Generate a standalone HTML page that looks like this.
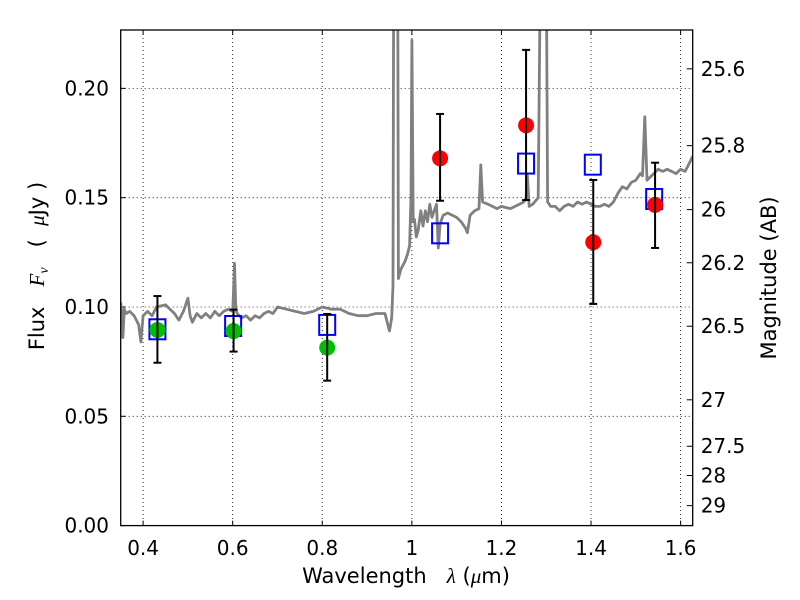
<!DOCTYPE html>
<html><head><meta charset="utf-8"><style>
html,body{margin:0;padding:0;background:#fff;}
svg{display:block;font-family:"DejaVu Sans","Liberation Sans",sans-serif;}
text{white-space:pre;}
</style></head><body>
<svg id="chart" width="800" height="600"></svg>
<script>
const xTicks=[0.4,0.6,0.8,1.0,1.2,1.4,1.6];
const xTickLabels=["0.4","0.6","0.8","1","1.2","1.4","1.6"];
const yTicks=[0,0.05,0.10,0.15,0.20];
const yTickLabels=["0.00","0.05","0.10","0.15","0.20"];
const magTicks=[25.6,25.8,26,26.2,26.5,27,27.5,28,29];
const magLabels=["25.6","25.8","26","26.2","26.5","27","27.5","28","29"];
const specLam=[0.35,0.353,0.355,0.358,0.362,0.37,0.38,0.39,0.395,0.40,0.41,0.42,0.43,0.45,0.46,0.47,0.48,0.49,0.5,0.505,0.51,0.52,0.53,0.54,0.55,0.56,0.57,0.58,0.59,0.6,0.602,0.604,0.607,0.61,0.62,0.63,0.64,0.65,0.66,0.67,0.68,0.69,0.70,0.72,0.74,0.76,0.78,0.80,0.82,0.84,0.86,0.88,0.90,0.92,0.94,0.945,0.95,0.955,0.958,0.96,0.968,0.97,0.975,0.98,0.985,0.99,0.995,0.998,1.0,1.003,1.006,1.01,1.014,1.02,1.025,1.03,1.035,1.04,1.045,1.05,1.055,1.059,1.063,1.07,1.08,1.09,1.10,1.11,1.12,1.124,1.13,1.14,1.15,1.154,1.158,1.17,1.18,1.19,1.2,1.22,1.24,1.25,1.255,1.258,1.262,1.27,1.282,1.289,1.299,1.303,1.31,1.32,1.33,1.34,1.35,1.36,1.37,1.38,1.39,1.40,1.41,1.42,1.43,1.44,1.45,1.46,1.47,1.48,1.49,1.50,1.51,1.515,1.52,1.525,1.53,1.54,1.55,1.56,1.57,1.58,1.59,1.60,1.61,1.62,1.627];
const specFlux=[0.102,0.096,0.086,0.099,0.097,0.098,0.096,0.092,0.084,0.096,0.098,0.096,0.100,0.101,0.099,0.097,0.094,0.098,0.104,0.096,0.093,0.097,0.095,0.097,0.095,0.098,0.096,0.098,0.099,0.098,0.108,0.120,0.099,0.097,0.095,0.096,0.094,0.096,0.095,0.097,0.098,0.097,0.100,0.099,0.098,0.097,0.098,0.100,0.099,0.099,0.097,0.096,0.096,0.097,0.097,0.093,0.089,0.095,0.11,0.30,0.30,0.113,0.117,0.119,0.121,0.124,0.128,0.150,0.222,0.139,0.140,0.132,0.135,0.144,0.137,0.144,0.139,0.147,0.141,0.144,0.147,0.127,0.138,0.142,0.143,0.142,0.141,0.139,0.136,0.134,0.142,0.144,0.145,0.165,0.148,0.147,0.146,0.145,0.146,0.145,0.147,0.148,0.150,0.160,0.146,0.147,0.150,0.30,0.30,0.148,0.146,0.146,0.144,0.146,0.147,0.146,0.148,0.147,0.148,0.147,0.146,0.146,0.147,0.146,0.148,0.152,0.155,0.154,0.157,0.158,0.161,0.160,0.187,0.158,0.159,0.161,0.163,0.162,0.163,0.162,0.161,0.163,0.162,0.166,0.169];
const sqLam=[0.432,0.601,0.811,1.063,1.255,1.404,1.541];
const sqFlux=[0.0898,0.0913,0.0918,0.1337,0.1656,0.1651,0.1494];
const greenLam=[0.432,0.602,0.811];
const greenFlux=[0.0895,0.089,0.0814];
const greenHi=[0.105,0.0988,0.0968];
const greenLo=[0.0745,0.0796,0.0663];
const redLam=[1.063,1.255,1.405,1.543];
const redFlux=[0.168,0.1831,0.1296,0.1467];
const redHi=[0.1883,0.2176,0.1581,0.166];
const redLo=[0.1486,0.1489,0.1014,0.127];

const L=120.7,R=692.7,T=30,B=525.6;
const XMIN=0.35,XMAX=1.627,YMIN=0,YMAX=0.2267;
const sx=v=>L+(v-XMIN)/(XMAX-XMIN)*(R-L);
const sy=v=>B-(v-YMIN)/(YMAX-YMIN)*(B-T);
const NS="http://www.w3.org/2000/svg";
const svg=document.getElementById('chart');
function mk(tag,attrs,parent){const e=document.createElementNS(NS,tag);for(const k in attrs)e.setAttribute(k,attrs[k]);(parent||svg).appendChild(e);return e;}

const defs=mk('defs',{});
const cp=mk('clipPath',{id:'pc'},defs);
mk('rect',{x:L,y:T,width:R-L,height:B-T},cp);

xTicks.forEach((t,i)=>{
  const g=mk('line',{x1:sx(t),x2:sx(t),y1:T,y2:B,stroke:'#000','stroke-width':0.8,'stroke-dasharray':'1,3'});
  
  
  const tk=mk('line',{x1:sx(t),x2:sx(t),y1:B,y2:B-5,stroke:'#000','stroke-width':1});
  
  
  mk('line',{x1:sx(t),x2:sx(t),y1:T,y2:T+5,stroke:'#000','stroke-width':1});
  const tx=mk('text',{x:sx(t),y:555,'text-anchor':'middle','font-size':20});
  tx.textContent=xTickLabels[i];
  
  
});
yTicks.forEach((t,i)=>{
  const g=mk('line',{x1:L,x2:R,y1:sy(t),y2:sy(t),stroke:'#000','stroke-width':0.8,'stroke-dasharray':'1,3'});
  
  
  mk('line',{x1:L,x2:L+5,y1:sy(t),y2:sy(t),stroke:'#000','stroke-width':1});
  const tx=mk('text',{x:109,y:sy(t)+7,'text-anchor':'end','font-size':20});
  tx.textContent=yTickLabels[i];
  
  
});
magTicks.forEach((m,i)=>{
  const f=Math.pow(10,(23.9-m)/2.5);
  const y=sy(f);
  const tk=mk('line',{x1:R,x2:R-6,y1:y,y2:y,stroke:'#000','stroke-width':1});
  
  
  const tx=mk('text',{x:R+8,y:y+7,'font-size':20});
  tx.textContent=magLabels[i];
  
  
});

const pts=specLam.map((l,i)=>sx(l).toFixed(1)+','+sy(specFlux[i]).toFixed(1)).join(' ');
const sp=mk('polyline',{points:pts,fill:'none',stroke:'#808080','stroke-width':2.8,'stroke-linejoin':'round','clip-path':'url(#pc)'});



sqLam.forEach((l,i)=>{
  const r=mk('rect',{x:sx(l)-8,y:sy(sqFlux[i])-10,width:16,height:20,fill:'none',stroke:'#0000ff','stroke-width':2});
  
  
});
function errbar(x,hi,lo){
  const g=mk('g',{stroke:'#000','stroke-width':2});
  
  
  mk('line',{x1:x,x2:x,y1:sy(hi),y2:sy(lo)},g);
  mk('line',{x1:x-4,x2:x+4,y1:sy(hi),y2:sy(hi)},g);
  mk('line',{x1:x-4,x2:x+4,y1:sy(lo),y2:sy(lo)},g);
}
greenLam.forEach((l,i)=>{
  const c=mk('circle',{cx:sx(l),cy:sy(greenFlux[i]),r:8,fill:'#00bf00'});
  
  
  errbar(sx(l),greenHi[i],greenLo[i]);
});
redLam.forEach((l,i)=>{
  const c=mk('circle',{cx:sx(l),cy:sy(redFlux[i]),r:8,fill:'#ff0000'});
  
  
  errbar(sx(l),redHi[i],redLo[i]);
});

const fr=mk('rect',{x:L,y:T,width:R-L,height:B-T,fill:'none',stroke:'#000','stroke-width':1.3});



const xl=mk('text',{x:406,y:583,'text-anchor':'middle','font-size':21});
xl.innerHTML='Wavelength   <tspan font-family="Liberation Serif" font-style="italic">λ</tspan> (<tspan font-family="Liberation Serif" font-style="italic">μ</tspan>m)';


const yl=mk('text',{x:0,y:0,'text-anchor':'middle','font-size':21,transform:'translate(44,266) rotate(-90)'});
yl.innerHTML='Flux   <tspan font-family="Liberation Serif" font-style="italic">F</tspan><tspan font-family="Liberation Serif" font-style="italic" font-size="14" dy="4">ν</tspan><tspan dy="-4">   (  </tspan><tspan font-family="Liberation Serif" font-style="italic">μ</tspan>Jy )';


const rl=mk('text',{x:0,y:0,'text-anchor':'middle','font-size':21,transform:'translate(776,278) rotate(-90)'});
rl.textContent='Magnitude (AB)';


</script>
</body></html>
